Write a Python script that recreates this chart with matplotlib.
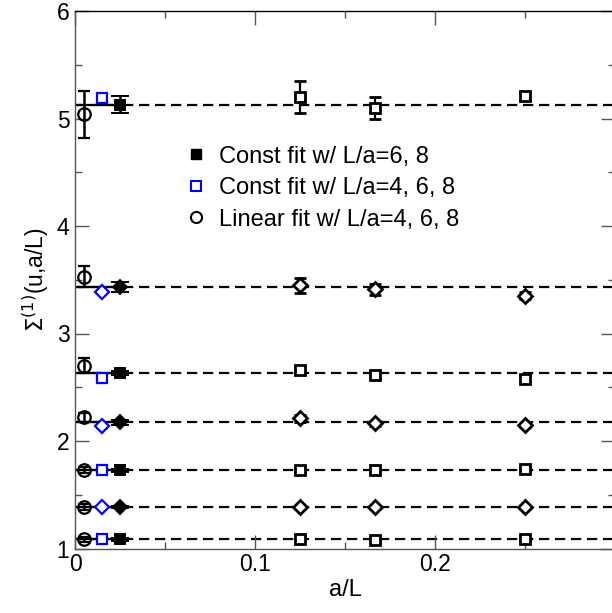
import matplotlib
matplotlib.use("Agg")
import matplotlib.pyplot as plt
from matplotlib.lines import Line2D
from matplotlib.ticker import MultipleLocator

plt.rcParams['font.family'] = ['Liberation Sans', 'DejaVu Sans']

# lattice spacings a/L for L/a = 8, 6, 4
x_lat = [1 / 8, 1 / 6, 1 / 4]

# continuum points (slightly offset from a/L = 0)
x_lin = 0.005
x_c468 = 0.015
x_c68 = 0.025

# rows from top to bottom
sigma_lat = [
    [5.20, 5.10, 5.21],
    [3.45, 3.41, 3.353],
    [2.66, 2.61, 2.575],
    [2.21, 2.163, 2.147],
    [1.73, 1.73, 1.735],
    [1.385, 1.385, 1.385],
    [1.087, 1.083, 1.085],
]
sigma_lat_err = [
    [0.15, 0.10, 0.04],
    [0.07, 0.05, 0.03],
    [0.03, 0.03, 0.03],
    [0.03, 0.02, 0.02],
    [0.02, 0.02, 0.02],
    [0.015, 0.015, 0.015],
    [0.015, 0.015, 0.015],
]
const68 = [5.13, 3.43, 2.632, 2.173, 1.729, 1.385, 1.085]
const68_err = [0.08, 0.045, 0.02, 0.02, 0.015, 0.012, 0.012]
const468 = [5.19, 3.385, 2.59, 2.14, 1.729, 1.385, 1.085]
const468_err = [0.03, 0.02, 0.02, 0.015, 0.012, 0.01, 0.01]
linear = [5.04, 3.53, 2.70, 2.22, 1.729, 1.385, 1.085]
linear_err = [0.22, 0.10, 0.07, 0.045, 0.03, 0.025, 0.02]
row_markers = ['s', 'D', 's', 'D', 's', 'D', 's']

fig = plt.figure(figsize=(6.12, 6.13), dpi=100)
ax = fig.add_axes([75 / 612, 64.5 / 613, 540 / 612, 537.5 / 613])

for i, m in enumerate(row_markers):
    ms = 7.5 if m == 's' else 7.0
    # fit value: solid up to continuum point, dashed beyond
    ax.plot([0, x_c68], [const68[i]] * 2, color='black', lw=1.6, zorder=1)
    ax.axhline(const68[i], color='black', lw=1.6, ls=(0, (4.6, 2.6)), zorder=1)
    ax.errorbar(x_lat, sigma_lat[i], yerr=sigma_lat_err[i], fmt=m, ms=ms,
                mfc='white', mec='black', mew=2.0, ecolor='black',
                elinewidth=1.6, capsize=4.5, capthick=1.8, zorder=3)
    ax.errorbar(x_lin, linear[i], yerr=linear_err[i], fmt='o', ms=9,
                mfc='none', mec='black', mew=1.6, ecolor='black',
                elinewidth=1.8, capsize=4.5, capthick=1.8, zorder=3)
    ax.errorbar(x_c468, const468[i], yerr=const468_err[i], fmt=m, ms=ms,
                mfc='white', mec='blue', mew=1.6, ecolor='blue',
                elinewidth=1.4, capsize=3.5, capthick=1.4, zorder=3)
    ax.errorbar(x_c68, const68[i], yerr=const68_err[i], fmt=m, ms=ms,
                mfc='black', mec='black', mew=1.4, ecolor='black',
                elinewidth=1.8, capsize=6.5, capthick=1.8, zorder=3)

ax.set_xlim(0, 0.3)
ax.set_ylim(1, 6)
ax.xaxis.set_minor_locator(MultipleLocator(0.05))
ax.yaxis.set_major_locator(MultipleLocator(1))
ax.yaxis.set_minor_locator(MultipleLocator(0.5))
ax.set_xticks([0, 0.1, 0.2])
ax.set_xticklabels(['0', '0.1', '0.2'])
ax.tick_params(which='both', direction='in', top=True, right=True,
               color='#555555', labelsize=16.5, width=1)
ax.tick_params(which='major', length=10)
ax.tick_params(which='minor', length=5)
ax.tick_params(axis='y', pad=4)
ax.tick_params(axis='x', pad=3.5)
for s in ax.spines.values():
    s.set_linewidth(1.0)
ax.spines['left'].set_color('#555555')
ax.spines['bottom'].set_color('#555555')

ax.set_xlabel('a/L', fontsize=17, labelpad=2)
ax.set_ylabel(r'$\Sigma^{(1)}$(u,a/L)', fontsize=16.5, labelpad=4)

handles = [
    Line2D([], [], ls='none', marker='s', ms=7, mfc='black', mec='black'),
    Line2D([], [], ls='none', marker='s', ms=7.5, mfc='white', mec='blue', mew=1.5),
    Line2D([], [], ls='none', marker='o', ms=8, mfc='white', mec='black', mew=1.5),
]
labels = ['Const fit w/ L/a=6, 8', 'Const fit w/ L/a=4, 6, 8',
          'Linear fit w/ L/a=4, 6, 8']
ax.legend(handles, labels, loc='upper left', bbox_to_anchor=(0.19, 0.767),
          frameon=False, fontsize=17, handlelength=0.8, handletextpad=0.55,
          labelspacing=0.4, borderaxespad=0)

fig.savefig('out.png', dpi=100)
